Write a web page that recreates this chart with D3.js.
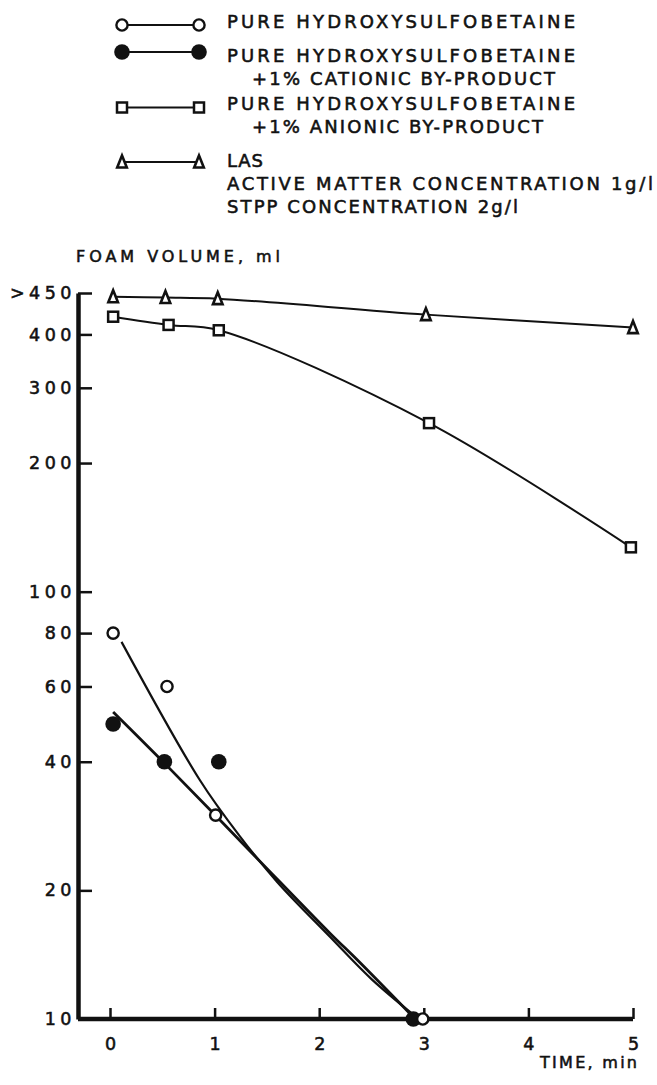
<!DOCTYPE html>
<html>
<head>
<meta charset="utf-8">
<script src="https://cdn.jsdelivr.net/npm/d3@7"></script>
<style>
  html, body { margin: 0; padding: 0; background: #fff; }
  svg { display: block; }
  text { font-family: "DejaVu Sans", "Liberation Sans", sans-serif; fill: #111; stroke: #111; stroke-width: 0.55px; }
</style>
</head>
<body>
<svg id="chart" width="657" height="1085"></svg>
<script>
// ---------------- data ----------------
const xTickValues = [0, 1, 2, 3, 4, 5];
const yTickValues = [10, 20, 40, 60, 80, 100, 200, 300, 400, 500];
const yTickLabels = ["10", "20", "40", "60", "80", "100", "200", "300", "400", ">450"];

// LAS (open triangles)
const lasTime   = [0.03, 0.53, 1.03, 3.02, 5.0];
const lasVolume = [490, 488, 485, 445, 415];

// pure hydroxysulfobetaine + 1% anionic by-product (open squares)
const anionicTime   = [0.03, 0.56, 1.04, 3.05, 4.98];
const anionicVolume = [440, 421, 409, 248, 127];

// pure hydroxysulfobetaine (open circles) and its fitted curve
const pureTime   = [0.03, 0.545, 1.01, 2.99];
const pureVolume = [80, 60, 30, 10];
const pureFitTime   = [0.11, 0.86, 1.24, 1.6, 2.1, 2.5, 2.93];
const pureFitVolume = [76.3, 36.2, 26.8, 20.9, 15.6, 12.4, 10.1];

// pure hydroxysulfobetaine + 1% cationic by-product (filled circles) and fitted curve
const cationicTime   = [0.03, 0.52, 1.04, 2.90];
const cationicVolume = [49, 40, 40, 10];
const cationicFitTime   = [0.03, 0.52, 1.34, 2.10, 2.37, 2.90];
const cationicFitVolume = [52.3, 39.7, 24.7, 15.9, 13.7, 10.1];

const legendItems = [
  { marker: "openCircle",   lines: ["PURE HYDROXYSULFOBETAINE"] },
  { marker: "filledCircle", lines: ["PURE HYDROXYSULFOBETAINE", "+1% CATIONIC BY-PRODUCT"] },
  { marker: "square",       lines: ["PURE HYDROXYSULFOBETAINE", "+1% ANIONIC BY-PRODUCT"] },
  { marker: "triangle",     lines: ["LAS"] }
];
const noteLines = ["ACTIVE MATTER CONCENTRATION 1g/l", "STPP CONCENTRATION 2g/l"];
const yTitle = "FOAM VOLUME, ml";
const xTitle = "TIME, min";

// ---------------- layout ----------------
const svg = d3.select("#chart");
const axisX = 78, axisY = 1019, axisTop = 293;
const x = d3.scaleLinear().domain([0, 5]).range([110, 633]);
const y = d3.scaleLog().domain([10, 500]).range([axisY, axisTop]);

const zip = (a, b) => a.map((t, i) => [t, b[i]]);

function drawMarker(g, type, cx, cy) {
  if (type === "openCircle") {
    g.append("circle").attr("cx", cx).attr("cy", cy).attr("r", 5.6)
      .attr("fill", "#fff").attr("stroke", "#111").attr("stroke-width", 2.4);
  } else if (type === "filledCircle") {
    g.append("circle").attr("cx", cx).attr("cy", cy).attr("r", 7.8)
      .attr("fill", "#111");
  } else if (type === "square") {
    g.append("rect").attr("x", cx - 5).attr("y", cy - 5).attr("width", 10).attr("height", 10)
      .attr("fill", "#fff").attr("stroke", "#111").attr("stroke-width", 2.5);
  } else if (type === "triangle") {
    g.append("path")
      .attr("d", `M${cx},${cy - 6.5}L${cx + 4.8},${cy + 5.5}L${cx - 4.8},${cy + 5.5}Z`)
      .attr("fill", "#fff").attr("stroke", "#111").attr("stroke-width", 2.6)
      .attr("stroke-linejoin", "miter");
  }
}

// ---------------- legend ----------------
const legend = svg.append("g");
const legendRows = [
  { sym: 25, base: [28], len: [348] },
  { sym: 52, base: [62, 85], len: [348, 303] },
  { sym: 107.5, base: [110, 133], len: [348, 291] },
  { sym: 162, base: [167], len: [36] }
];
const lx0 = 122, lx1 = 199, textX = 227, indentX = 252;
legendItems.forEach((item, i) => {
  const r = legendRows[i];
  legend.append("line").attr("x1", lx0).attr("x2", lx1).attr("y1", r.sym).attr("y2", r.sym)
    .attr("stroke", "#111").attr("stroke-width", 2);
  drawMarker(legend, item.marker, lx0, r.sym);
  drawMarker(legend, item.marker, lx1, r.sym);
  item.lines.forEach((t, j) => {
    legend.append("text").attr("x", j === 0 ? textX : indentX).attr("y", r.base[j])
      .attr("font-size", 18).attr("textLength", r.len[j]).attr("lengthAdjust", "spacing").text(t);
  });
});
noteLines.forEach((t, j) => {
  legend.append("text").attr("x", textX).attr("y", [190, 213][j])
    .attr("font-size", 18).attr("textLength", [426, 291][j]).attr("lengthAdjust", "spacing").text(t);
});

// ---------------- axes ----------------
const yAxis = d3.axisLeft(y)
  .tickValues(yTickValues)
  .tickFormat((d, i) => yTickLabels[i])
  .tickSizeInner(-14).tickSizeOuter(0).tickPadding(2);
const gy = svg.append("g").attr("transform", `translate(${axisX},0)`).call(yAxis);
gy.select(".domain").attr("stroke", "#111").attr("stroke-width", 4.5);
gy.selectAll(".tick line").attr("stroke", "#111").attr("stroke-width", 2.5);
gy.selectAll(".tick").filter(d => d === 10).select("line").remove();
gy.selectAll(".tick text").attr("font-family", "DejaVu Sans").attr("font-size", 17.5)
  .attr("letter-spacing", 4.5).attr("fill", "#111");

const xAxis = d3.axisBottom(x).tickValues(xTickValues).tickFormat(d3.format("d"))
  .tickSizeInner(-11).tickSizeOuter(0).tickPadding(19);
const gx = svg.append("g").attr("transform", `translate(0,${axisY})`).call(xAxis);
gx.select(".domain").remove();
gx.append("line").attr("x1", axisX).attr("x2", x.range()[1]).attr("y1", 0).attr("y2", 0)
  .attr("stroke", "#111").attr("stroke-width", 4.5);
gx.selectAll(".tick line").attr("stroke", "#111").attr("stroke-width", 2.5);
gx.selectAll(".tick text").attr("font-family", "DejaVu Sans").attr("font-size", 17.5)
  .attr("fill", "#111");

svg.append("text").attr("x", 76).attr("y", 262).attr("font-size", 16)
  .attr("textLength", 204).attr("lengthAdjust", "spacing").text(yTitle);
svg.append("text").attr("x", 540).attr("y", 1068).attr("font-size", 16)
  .attr("textLength", 97).attr("lengthAdjust", "spacing").text(xTitle);

// ---------------- series ----------------
const line = d3.line().x(d => x(d[0])).y(d => y(d[1])).curve(d3.curveCatmullRom.alpha(0.5));
const plot = svg.append("g");
const curves = [
  { pts: zip(lasTime, lasVolume), w: 2 },
  { pts: zip(anionicTime, anionicVolume), w: 2 },
  { pts: zip(pureFitTime, pureFitVolume), w: 2.2 },
  { pts: zip(cationicFitTime, cationicFitVolume), w: 2.8 }
];
curves.forEach(c => {
  plot.append("path").attr("d", line(c.pts)).attr("fill", "none")
    .attr("stroke", "#111").attr("stroke-width", c.w);
});
zip(lasTime, lasVolume).forEach(d => drawMarker(plot, "triangle", x(d[0]), y(d[1])));
zip(anionicTime, anionicVolume).forEach(d => drawMarker(plot, "square", x(d[0]), y(d[1])));
zip(cationicTime, cationicVolume).forEach(d => drawMarker(plot, "filledCircle", x(d[0]), y(d[1])));
zip(pureTime, pureVolume).forEach(d => drawMarker(plot, "openCircle", x(d[0]), y(d[1])));
</script>
</body>
</html>
